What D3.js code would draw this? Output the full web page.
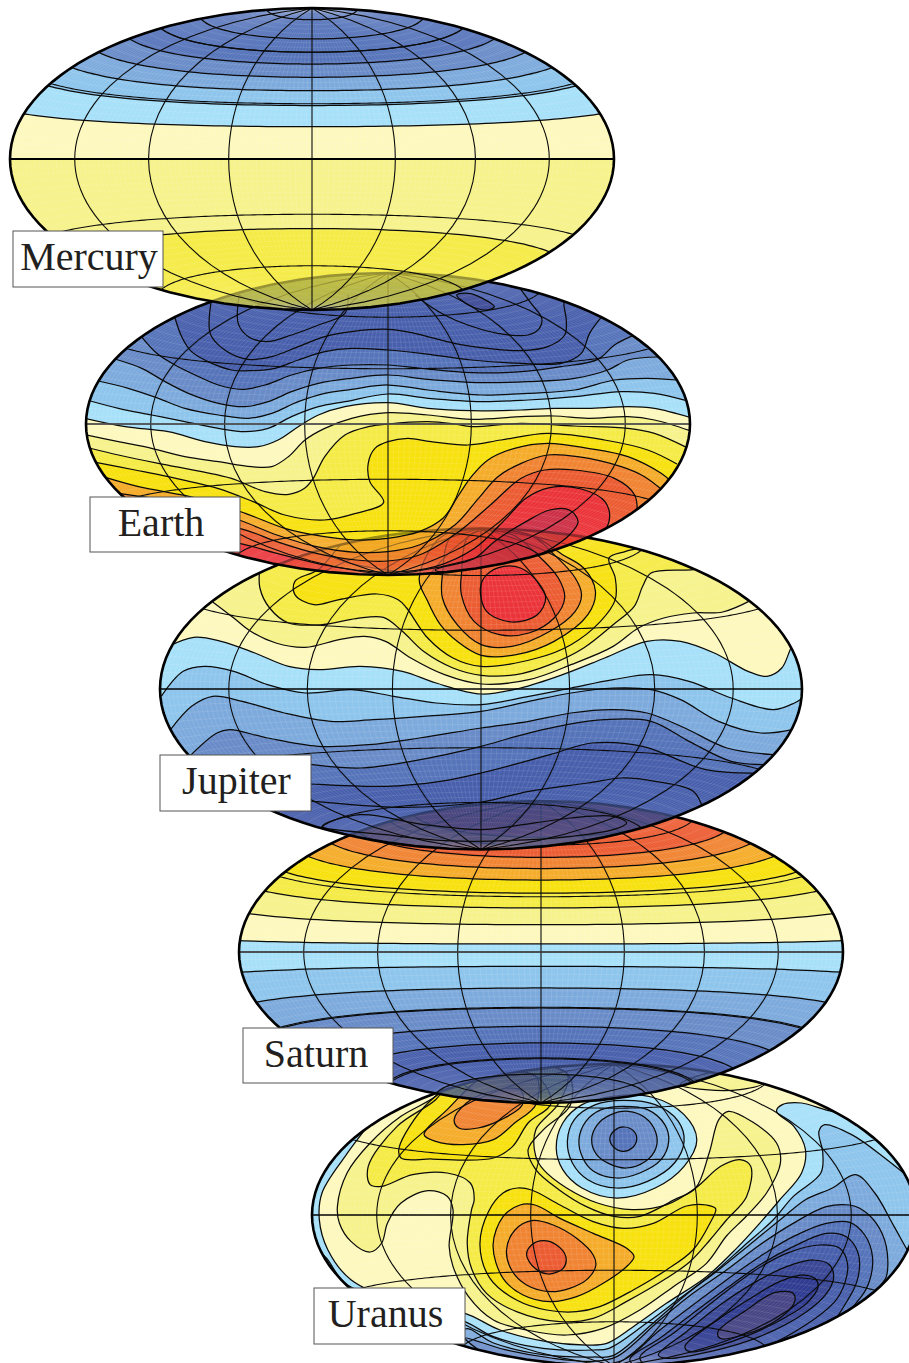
<!DOCTYPE html>
<html>
<head>
<meta charset="utf-8">
<script src="https://cdn.jsdelivr.net/npm/d3@7"></script>
<style>
  body { margin: 0; background: #fff; }
  svg { display: block; }
  .name { font-family: "Liberation Serif", serif; font-size: 40px; fill: #231f20; text-anchor: middle; }
  .fills { mix-blend-mode: multiply; }
</style>
</head>
<body>
<div id="chart"></div>
<script>
// colour bands, coldest to hottest, as they look on white paper (last two are the extra deep blues)
const bandColors = [
  "rgb(58,72,150)", "rgb(72,95,172)", "rgb(86,116,186)", "rgb(105,140,200)",
  "rgb(125,170,220)", "rgb(142,197,236)", "rgb(167,224,249)", "rgb(253,248,190)",
  "rgb(246,242,140)", "rgb(245,235,70)", "rgb(247,225,15)", "rgb(245,172,42)",
  "rgb(240,132,50)", "rgb(236,92,50)", "rgb(235,52,58)", "rgb(205,48,70)",
  "rgb(48,60,145)", "rgb(70,68,132)"
];

// zonal planets: contour latitudes (deg) and the band north of each one
const mercuryLats = [-38, 0, 17.4, 29, 37.3, 45, 52.8, 60, 68.4, 81.4];
const mercuryBands = [8, 7, 6, 5, 4, 3, 2, 2, 2, 2];
const saturnLats = [-69.7, -59.5, -50.4, -40.7, -30.4, -19.4, -7.7, 4.3, 14.7, 23.8, 32, 39.4, 46, 52.6, 65];
const saturnBands = [1, 1, 2, 3, 4, 5, 6, 7, 8, 9, 10, 11, 12, 13, 14];

// non-zonal planets: contours read off the map plane, [band, side filled, points]
const earthContours = [
  [3, "below", [[155,212],[196,265],[242,300],[293,330],[352,360],[411,373],[470,360],[537,330],[605,310],[689,300],[781,300],[865,310],[992,323],[1118,320],[1219,305],[1312,283],[1354,240],[1400,212]]],
  [4, "below", [[90,282],[158,310],[217,350],[276,385],[352,415],[419,425],[478,410],[537,380],[605,355],[689,340],[781,330],[882,343],[1017,353],[1135,350],[1253,340],[1337,315],[1388,285],[1465,276]]],
  [5, "below", [[48,348],[124,370],[200,400],[267,430],[352,450],[428,460],[487,445],[554,410],[621,385],[689,373],[781,360],[882,375],[1017,390],[1135,385],[1253,375],[1354,345],[1438,340],[1512,345]]],
  [6, "below", [[28,408],[99,430],[183,450],[267,470],[352,490],[419,500],[478,490],[537,455],[605,425],[672,410],[781,387],[882,400],[1017,410],[1135,405],[1253,395],[1371,380],[1455,385],[1536,407]]],
  [7, "below", [[14,460],[116,485],[225,500],[318,530],[394,545],[453,545],[503,525],[554,485],[605,450],[672,425],[781,413],[882,430],[992,437],[1118,435],[1202,430],[1287,430],[1388,425],[1455,430],[1550,459]]],
  [8, "below", [[15,509],[99,530],[183,550],[267,575],[352,590],[436,605],[487,605],[529,575],[571,525],[621,490],[689,460],[781,443],[882,450],[992,463],[1118,455],[1202,453],[1287,460],[1388,455],[1455,465],[1545,497]]],
  [9, "below", [[25,549],[99,570],[200,595],[310,620],[385,640],[470,680],[530,688],[570,670],[592,640],[621,575],[672,510],[731,485],[781,477],[882,470],[949,477],[992,485],[1118,475],[1253,483],[1388,490],[1455,505],[1536,547]]],
  [10, "below", [[45,593],[141,615],[225,635],[350,670],[440,710],[520,750],[620,765],[700,745],[770,712],[735,650],[731,595],[748,550],[781,530],[831,520],[890,530],[983,540],[1067,525],[1185,505],[1329,525],[1438,555],[1512,597]]],
  [11, "below", [[60,635],[150,665],[300,700],[420,745],[520,790],[620,815],[700,825],[780,820],[860,800],[920,760],[960,690],[992,635],[1034,585],[1101,550],[1185,535],[1287,550],[1388,575],[1472,625],[1495,647]]],
  [12, "below", [[100,685],[300,725],[405,765],[500,810],[600,845],[700,862],[780,860],[860,840],[950,780],[1010,700],[1059,635],[1118,595],[1185,570],[1261,575],[1371,605],[1430,635],[1480,680],[1500,700]]],
  [13, "below", [[180,755],[405,790],[500,830],[600,865],[700,885],[780,888],[860,870],[960,800],[1040,720],[1118,640],[1177,615],[1253,615],[1354,640],[1405,690],[1410,760],[1400,800]]],
  [14, "ring", [[285,815],[405,835],[500,865],[620,900],[700,915],[780,922],[900,905],[1000,850],[1080,760],[1130,700],[1190,668],[1270,672],[1330,710],[1340,770],[1290,850],[1200,920],[1000,990],[500,990],[285,900]]],
  [15, "ring", [[900,915],[1000,880],[1050,830],[1130,770],[1190,735],[1240,735],[1262,770],[1240,810],[1180,860],[1100,900],[1000,925]]],
  [1, "above", [[240,150],[259,215],[284,260],[326,290],[385,315],[436,317],[495,310],[554,285],[621,260],[689,250],[781,255],[865,265],[992,285],[1118,295],[1219,295],[1270,265],[1291,205],[1322,155]]],
  [1, "above", [[335,100],[331,205],[368,255],[427,283],[487,275],[554,245],[621,215],[689,200],[781,193],[848,205],[949,235],[1034,250],[1118,257],[1185,245],[1228,210],[1232,165],[1226,115],[1232,95]]],
  [1, "above", [[405,90],[402,175],[428,215],[474,230],[537,210],[605,180],[672,145],[680,90]]],
  [1, "above", [[850,90],[865,105],[924,150],[983,180],[1059,205],[1135,210],[1164,190],[1170,160],[1143,115],[1115,70]]],
  [0, "ring", [[955,90],[985,120],[1030,135],[1050,125],[1020,100],[985,85]]]
];

const jupiterContours = [
  [1, "ring", [[410,905],[560,930],[700,948],[850,948],[1000,935],[1100,915],[1132,895],[1100,875],[1000,880],[860,905],[787,915],[650,900],[500,870]]],
  [1, "above", [[300,825],[385,830],[600,848],[787,832],[900,800],[1040,775],[1120,760],[1200,770],[1290,800],[1315,860]]],
  [2, "above", [[300,770],[385,778],[560,785],[690,770],[787,745],[950,690],[1050,655],[1170,665],[1320,735],[1450,745]]],
  [3, "above", [[300,705],[385,720],[500,730],[620,710],[787,665],[870,635],[990,600],[1080,585],[1190,590],[1280,650],[1380,710],[1460,720]]],
  [4, "above", [[95,695],[160,625],[190,615],[280,640],[400,665],[520,660],[640,640],[787,610],[900,590],[1000,565],[1100,555],[1180,565],[1270,610],[1370,670],[1480,690]]],
  [5, "above", [[50,615],[100,545],[150,515],[220,530],[320,565],[430,590],[530,585],[650,575],[787,560],[900,530],[1000,505],[1100,490],[1190,495],[1260,525],[1350,590],[1450,625],[1525,615]]],
  [6, "above", [[28,515],[80,440],[130,425],[200,440],[280,480],[370,505],[480,495],[580,515],[680,535],[787,540],[900,515],[1000,490],[1100,465],[1190,450],[1280,470],[1380,520],[1480,555],[1530,535],[1555,515]]],
  [7, "above", [[45,365],[105,338],[170,350],[250,385],[330,425],[400,435],[500,425],[600,440],[680,475],[787,508],[880,490],[980,450],[1080,400],[1180,350],[1260,350],[1340,385],[1420,440],[1465,455],[1500,430],[1520,375],[1535,335]]],
  [8, "above", [[150,232],[200,280],[240,320],[300,355],[370,368],[450,345],[510,335],[560,350],[620,400],[700,450],[787,478],[900,465],[1000,420],[1100,365],[1160,310],[1220,280],[1290,265],[1360,262],[1430,225]]],
  [9, "above", [[262,125],[262,190],[285,250],[330,295],[410,300],[490,282],[555,278],[600,320],[650,380],[720,430],[787,452],[870,450],[950,420],[1030,370],[1100,300],[1150,245],[1170,185],[1190,145],[1290,135],[1330,125]]],
  [10, "ring", [[400,135],[345,170],[345,210],[390,240],[450,225],[540,208],[590,225],[610,250],[660,340],[720,400],[787,425],[920,400],[1000,360],[1070,290],[1105,225],[1105,160],[1090,100],[1130,80],[1170,65],[1000,20],[500,20]]],
  [11, "ring", [[640,160],[660,230],[690,300],[730,350],[787,392],[870,390],[960,350],[1040,270],[1058,200],[1030,130],[980,90],[900,30],[700,30]]],
  [12, "ring", [[695,150],[695,220],[730,300],[787,360],[860,365],[950,320],[1010,260],[1025,210],[1010,160],[960,90],[900,30],[720,30]]],
  [13, "ring", [[740,150],[740,210],[770,290],[830,330],[900,325],[960,280],[985,220],[970,160],[920,90],[860,30],[760,30]]],
  [14, "ring", [[785,190],[800,260],[860,292],[920,270],[940,220],[920,170],[880,130],[840,125],[800,150]]]
];

const uranusContours = [
  [7, "ring", [[170,190],[105,290],[45,400],[38,480],[60,570],[120,660],[260,730],[416,761],[507,811],[628,846],[732,856],[784,851],[853,801],[939,731],[1043,651],[1121,566],[1181,491],[1233,421],[1290,340],[1300,270],[1270,200],[1225,155],[1240,135],[1290,130],[1375,155],[1420,140],[1300,0],[300,0]]],
  [8, "ring", [[85,440],[110,340],[170,250],[250,170],[340,110],[400,40],[680,40],[690,135],[620,210],[580,270],[600,330],[660,390],[730,440],[803,470],[870,470],[960,420],[1015,385],[1050,280],[1075,180],[1100,155],[1160,185],[1225,250],[1235,310],[1199,400],[1147,469],[1095,529],[1043,611],[957,681],[870,751],[775,806],[680,826],[576,811],[490,781],[425,710],[385,620],[375,560],[385,450],[370,410],[320,393],[250,430],[215,490],[200,550],[170,577],[120,545],[90,490]]],
  [8, "ring", [[975,75],[1040,90],[1130,90],[1190,70],[1100,30]]],
  [9, "ring", [[165,320],[170,375],[200,380],[280,345],[370,340],[430,370],[440,420],[433,451],[422,551],[433,626],[472,701],[550,756],[662,786],[749,776],[835,726],[939,656],[1000,606],[1052,541],[1095,481],[1147,411],[1158,320],[1130,300],[1080,320],[1015,385],[940,435],[850,450],[760,430],[680,385],[620,330],[600,290],[600,210],[660,130],[680,40],[400,40],[340,120],[240,200]]],
  [10, "ring", [[245,265],[250,295],[330,298],[490,295],[540,260],[580,190],[640,130],[600,50],[430,50],[320,130]]],
  [10, "ring", [[455,555],[477,456],[515,400],[552,385],[589,391],[663,436],[749,486],[827,506],[905,491],[991,439],[1043,436],[1067,447],[1052,491],[1008,571],[939,631],[853,691],[766,741],[706,756],[628,751],[550,721],[481,656]]],
  [11, "ring", [[310,225],[340,245],[410,255],[490,240],[545,190],[600,135],[600,50],[470,50],[370,150]]],
  [11, "ring", [[489,556],[515,471],[559,436],[598,436],[663,476],[749,521],[836,566],[855,591],[840,616],[775,671],[706,711],[637,726],[567,706],[515,656]]],
  [12, "ring", [[388,180],[400,205],[450,205],[510,180],[565,135],[560,90],[470,100],[420,130]]],
  [12, "ring", [[524,571],[546,511],[589,483],[645,496],[706,536],[749,586],[756,616],[736,656],[688,686],[637,696],[576,676],[537,631]]],
  [13, "ring", [[576,586],[589,556],[619,543],[654,556],[678,591],[671,626],[632,643],[598,626]]],
  [6, "ring", [[653,265],[670,190],[720,135],[800,110],[900,112],[985,165],[1018,240],[985,320],[910,385],[810,415],[720,385],[670,330]]],
  [5, "ring", [[682,245],[700,180],[755,135],[825,122],[910,135],[970,185],[985,245],[960,310],[890,365],[810,385],[735,360],[695,310]]],
  [4, "ring", [[712,240],[730,185],[770,150],[825,140],[890,150],[935,195],[945,245],[925,300],[870,340],[810,355],[750,335],[722,295]]],
  [3, "ring", [[745,240],[760,195],[795,165],[840,155],[885,175],[912,220],[912,265],[885,305],[835,325],[790,312],[758,285]]],
  [2, "ring", [[792,238],[805,212],[830,202],[855,215],[862,240],[850,265],[825,275],[802,262]]],
  [5, "ring", [[45,585],[110,675],[416,786],[490,831],[619,866],[749,871],[790,866],[887,791],[974,716],[1060,641],[1138,561],[1216,481],[1268,411],[1340,340],[1345,280],[1335,215],[1350,195],[1420,225],[1500,290],[1590,380],[1650,500],[1650,960],[0,960],[0,600]]],
  [4, "ring", [[416,808],[490,850],[619,885],[749,892],[800,888],[900,795],[987,708],[1075,630],[1155,555],[1240,475],[1300,420],[1370,385],[1430,345],[1480,400],[1530,500],[1580,600],[1650,700],[1650,960],[400,960]]],
  [3, "ring", [[416,835],[520,870],[640,895],[750,905],[810,891],[922,781],[1008,701],[1095,631],[1181,556],[1268,491],[1354,441],[1415,436],[1441,446],[1484,491],[1510,561],[1510,651],[1488,691],[1480,800],[1000,960],[600,960]]],
  [2, "ring", [[827,901],[922,811],[1008,736],[1095,661],[1181,591],[1268,531],[1354,491],[1415,488],[1454,526],[1474,591],[1467,661],[1445,711],[1300,860],[900,960],[700,930]]],
  [1, "ring", [[844,901],[922,836],[1008,761],[1095,686],[1181,616],[1268,561],[1354,521],[1406,531],[1437,581],[1437,651],[1415,711],[1300,870],[950,950]]],
  [1, "ring", [[870,896],[957,821],[1060,726],[1164,636],[1251,581],[1337,556],[1389,566],[1409,611],[1402,671],[1372,731],[1200,860],[950,940]]],
  [0, "ring", [[918,886],[991,816],[1078,736],[1164,671],[1251,621],[1320,601],[1363,616],[1373,656],[1355,701],[1303,756],[1181,831],[1052,876],[939,896]]],
  [16, "ring", [[987,861],[1078,776],[1164,711],[1233,666],[1294,646],[1324,656],[1333,681],[1303,731],[1251,771],[1164,821],[1060,863],[1000,876]]],
  [17, "ring", [[1073,816],[1147,751],[1220,699],[1268,701],[1272,726],[1233,776],[1138,826],[1078,836]]]
];

const W = 909, H = 1363;
// how much a map washes out the one lying under it
const veilOpacity = 0.62;

// Hammer projection, not in core d3
function hammerRaw(lam, phi) {
  const d = Math.sqrt(1 + Math.cos(phi) * Math.cos(lam / 2));
  return [2 * Math.SQRT2 * Math.cos(phi) * Math.sin(lam / 2) / d, Math.SQRT2 * Math.sin(phi) / d];
}

// bottom map is drawn first, each upper one shows the one below through it
const maps = [
  { id: "uranus", name: "Uranus", cx: 614, cy: 1215, rx: 302, ry: 151, base: 6, contours: uranusContours,
    xDomain: [19, 1587], yDomain: [13, 919], box: [314, 1288, 151, 56], tx: -4, eq: 1 },
  { id: "saturn", name: "Saturn", cx: 541, cy: 952, rx: 302, ry: 151, base: 1, lats: saturnLats, bands: saturnBands,
    box: [243, 1028, 150, 55], tx: -2, eq: 1.6, eqColor: "#444" },
  { id: "jupiter", name: "Jupiter", cx: 481, cy: 689, rx: 321, ry: 160, base: 1, contours: jupiterContours,
    xDomain: [25, 1548], yDomain: [13, 973], box: [160, 755, 151, 56], tx: 1, eq: 1 },
  { id: "earth", name: "Earth", cx: 388, cy: 424, rx: 302, ry: 151, base: 2, contours: earthContours,
    xDomain: [17, 1545], yDomain: [24, 930], box: [90, 497, 150, 55], tx: -4, eq: 1.6, eqColor: "#555" },
  { id: "mercury", name: "Mercury", cx: 312, cy: 159, rx: 302, ry: 151, base: 9, lats: mercuryLats, bands: mercuryBands,
    box: [13, 231, 150, 56], tx: 1, eq: 1.8 }
];

const svg = d3.select("#chart").append("svg").attr("width", W).attr("height", H);
const defs = svg.append("defs");
const lonSteps = d3.range(-180, 181, 5);
const curveOpen = d3.curveCatmullRom.alpha(0.5);
const curveRing = d3.curveCatmullRomClosed.alpha(0.5);

maps.forEach(m => {
  const projection = d3.geoProjection(hammerRaw)
    .scale(m.rx / (2 * Math.SQRT2))
    .translate([m.cx, m.cy])
    .precision(0.2);
  const path = d3.geoPath(projection);

  defs.append("clipPath").attr("id", `clip-${m.id}`)
    .append("path").attr("d", path({ type: "Sphere" }));

  // list of contours in pixels
  let contours;
  if (m.lats) {
    contours = m.lats.map((lat, i) => [m.bands[i], "above", lonSteps.map(lon => projection([lon, lat]))]);
  } else {
    const x = d3.scaleLinear().domain(m.xDomain).range([m.cx - m.rx, m.cx + m.rx]);
    const y = d3.scaleLinear().domain(m.yDomain).range([m.cy - m.ry, m.cy + m.ry]);
    contours = m.contours.map(c => [c[0], c[1], c[2].map(p => [x(p[0]), y(p[1])])]);
  }

  const top = m.cy - m.ry - 20, bottom = m.cy + m.ry + 20;
  const left = m.cx - m.rx - 20, right = m.cx + m.rx + 20;
  const openLine = d3.line().curve(curveOpen);
  const ringLine = d3.line().curve(curveRing);

  svg.append("path")
    .attr("d", path({ type: "Sphere" }))
    .attr("fill", "#fff")
    .attr("fill-opacity", veilOpacity);

  const fills = svg.append("g").attr("class", "fills")
    .attr("clip-path", `url(#clip-${m.id})`);

  fills.append("path").attr("d", path({ type: "Sphere" })).attr("fill", bandColors[m.base]);

  fills.selectAll("path.band").data(contours).join("path")
    .attr("class", "band")
    .attr("fill", d => bandColors[d[0]])
    .attr("d", d => {
      const pts = d[2];
      if (d[1] === "ring") return ringLine(pts);
      const edge = d[1] === "above" ? top : bottom;
      const first = pts[0], last = pts[pts.length - 1];
      // go out sideways past the rim first, then round the far side
      return `${openLine(pts)}L${right},${last[1]}L${right},${edge}L${left},${edge}L${left},${first[1]}Z`;
    });

  // the fine facet mesh of the original rendering
  fills.append("path")
    .attr("d", path(d3.geoGraticule().step([3, 3]).extent([[-180, -90], [180.01, 90.01]])()))
    .attr("fill", "none")
    .attr("stroke", "#fff")
    .attr("stroke-opacity", 0.2)
    .attr("stroke-width", 0.5);

  const lines = svg.append("g").attr("class", "lines")
    .attr("clip-path", `url(#clip-${m.id})`)
    .attr("fill", "none");

  lines.selectAll("path.contour").data(contours).join("path")
    .attr("class", "contour")
    .attr("stroke", "#0b0b0b")
    .attr("stroke-width", 1.25)
    .attr("d", d => (d[1] === "ring" ? ringLine(d[2]) : openLine(d[2])));

  lines.append("path")
    .attr("d", path(d3.geoGraticule().step([45, 30]).extent([[-180, -90], [180.01, 90.01]])()))
    .attr("stroke", "#0b0b0b")
    .attr("stroke-width", 1.1);

  lines.append("path")
    .attr("d", path({ type: "LineString", coordinates: lonSteps.map(lon => [lon, 0]) }))
    .attr("stroke", m.eqColor || "#000")
    .attr("stroke-width", m.eq);

  svg.append("path")
    .attr("d", path({ type: "Sphere" }))
    .attr("fill", "none")
    .attr("stroke", "#000")
    .attr("stroke-width", 2.6);
});

// name tags go on last, nothing covers them
const tags = svg.append("g").selectAll("g").data(maps).join("g")
  .attr("transform", d => `translate(${d.box[0]},${d.box[1]})`);
tags.append("rect")
  .attr("width", d => d.box[2])
  .attr("height", d => d.box[3])
  .attr("fill", "#fff")
  .attr("stroke", "#555")
  .attr("stroke-width", 1);
tags.append("text")
  .attr("class", "name")
  .attr("x", d => d.box[2] / 2 + d.tx)
  .attr("y", d => d.box[3] / 2 + 11)
  .text(d => d.name);
</script>
</body>
</html>
